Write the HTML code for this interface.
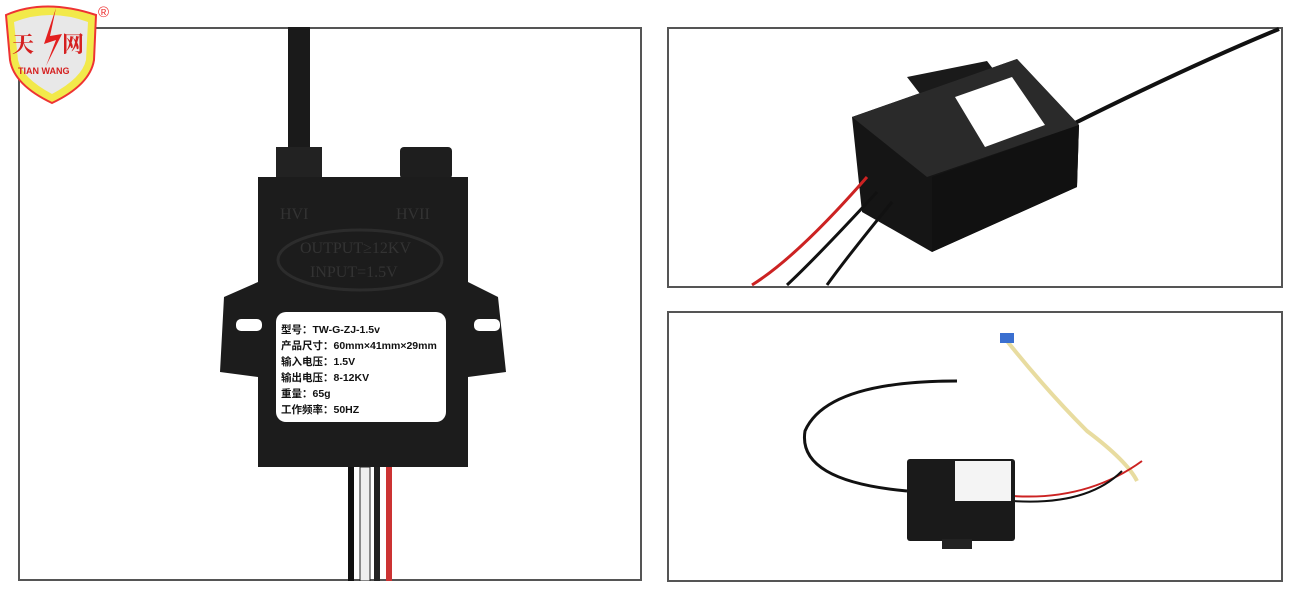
<!DOCTYPE html>
<html><head><meta charset="utf-8"><style>
body{margin:0;width:1300px;height:600px;background:#fff;position:relative;overflow:hidden;font-family:"Liberation Sans","Noto Sans CJK SC",sans-serif}
.p{position:absolute;border:2px solid #555;box-sizing:border-box;background:#fff}
.a{position:absolute}
</style></head><body>
<div class="p" style="left:18px;top:27px;width:624px;height:554px"></div>
<div class="p" style="left:667px;top:27px;width:616px;height:261px"></div>
<div class="p" style="left:667px;top:311px;width:616px;height:271px"></div>

<!-- logo -->
<svg class="a" style="left:0;top:0" width="130" height="110">
<path d="M6 15 Q45 -2 96 15 L94 60 Q90 85 52 103 Q14 85 10 60 Z" fill="#f2e94a" stroke="#e33" stroke-width="2"/>
<path d="M14 22 Q50 8 88 22 L86 60 Q82 78 52 94 Q22 78 18 60 Z" fill="#e8e8e8"/>
<path d="M56 8 L44 44 L56 40 L46 66 L62 34 L50 36 Z" fill="#e32020"/>
<text x="12" y="52" font-size="22" font-weight="bold" fill="#d52020" font-family="Noto Serif CJK SC,serif">天</text>
<text x="62" y="52" font-size="22" font-weight="bold" fill="#d52020" font-family="Noto Serif CJK SC,serif">网</text>
<text x="18" y="74" font-size="9" font-weight="bold" fill="#d52020">TIAN WANG</text>
<text x="98" y="17" font-size="15" fill="#e33">®</text>
</svg>

<!-- left product -->
<svg class="a" style="left:18px;top:27px" width="624" height="554">
<rect x="270" y="0" width="22" height="130" fill="#1a1a1a"/>
<rect x="258" y="120" width="46" height="30" fill="#222"/>
<rect x="382" y="120" width="52" height="32" rx="4" fill="#1e1e1e"/>
<path d="M240 150 L450 150 L450 255 L480 270 L488 345 L450 350 L450 440 L240 440 L240 350 L202 345 L206 270 L240 255 Z" fill="#1c1c1c"/>
<rect x="218" y="292" width="26" height="12" rx="5" fill="#fff"/>
<rect x="456" y="292" width="26" height="12" rx="5" fill="#fff"/>
<ellipse cx="342" cy="233" rx="82" ry="30" fill="none" stroke="#2c2c2c" stroke-width="3"/>
<text x="262" y="192" font-size="16" fill="#333" font-family="Liberation Serif">HVI</text>
<text x="378" y="192" font-size="16" fill="#333" font-family="Liberation Serif">HVII</text>
<text x="282" y="226" font-size="16" fill="#333" font-family="Liberation Serif">OUTPUT≥12KV</text>
<text x="292" y="250" font-size="16" fill="#333" font-family="Liberation Serif">INPUT=1.5V</text>
<rect x="330" y="440" width="6" height="114" fill="#111"/>
<rect x="342" y="440" width="10" height="114" fill="#eee" stroke="#222"/>
<rect x="356" y="440" width="6" height="114" fill="#222"/>
<rect x="368" y="440" width="6" height="114" fill="#c33"/>
<rect x="258" y="285" width="170" height="110" rx="10" fill="#fff"/>
<g font-size="10.5" fill="#111" font-family="Liberation Sans,Noto Sans CJK SC,sans-serif" font-weight="bold">
<text x="263" y="306">型号：TW-G-ZJ-1.5v</text>
<text x="263" y="322">产品尺寸：60mm×41mm×29mm</text>
<text x="263" y="338">输入电压：1.5V</text>
<text x="263" y="354">输出电压：8-12KV</text>
<text x="263" y="370">重量：65g</text>
<text x="263" y="386">工作频率：50HZ</text>
</g>
</svg>

<!-- top right -->
<svg class="a" style="left:667px;top:27px" width="616" height="261">
<path d="M400 100 Q520 40 612 2" stroke="#111" stroke-width="4" fill="none"/>
<path d="M240 50 L320 34 L340 60 L260 76 Z" fill="#1a1a1a"/>
<path d="M185 90 L350 32 L412 98 L410 160 L265 225 L195 185 Z" fill="#151515"/>
<path d="M185 90 L350 32 L412 98 L260 150 Z" fill="#2a2a2a"/>
<path d="M265 150 L412 98 L410 160 L265 225 Z" fill="#111"/>
<path d="M288 70 L345 50 L378 98 L318 120 Z" fill="#fff"/>
<path d="M200 150 Q130 230 85 258" stroke="#c22" stroke-width="3" fill="none"/>
<path d="M210 165 Q150 230 120 258" stroke="#111" stroke-width="3" fill="none"/>
<path d="M225 175 Q180 230 160 258" stroke="#111" stroke-width="3" fill="none"/>
</svg>

<!-- bottom right -->
<svg class="a" style="left:667px;top:311px" width="616" height="271">
<path d="M290 70 Q160 70 138 120 Q130 170 240 180" stroke="#111" stroke-width="3" fill="none"/>
<path d="M340 30 Q380 80 420 120 Q460 150 470 170" stroke="#e8dca0" stroke-width="4" fill="none"/>
<rect x="333" y="22" width="14" height="10" fill="#3a6fd0"/>
<path d="M345 185 Q420 190 475 150" stroke="#c22" stroke-width="2" fill="none"/>
<path d="M345 190 Q420 195 455 160" stroke="#111" stroke-width="2" fill="none"/>
<rect x="240" y="148" width="108" height="82" rx="3" fill="#1a1a1a"/>
<rect x="288" y="150" width="56" height="40" fill="#f4f4f4"/>
<rect x="275" y="228" width="30" height="10" fill="#222"/>
</svg>
</body></html>
